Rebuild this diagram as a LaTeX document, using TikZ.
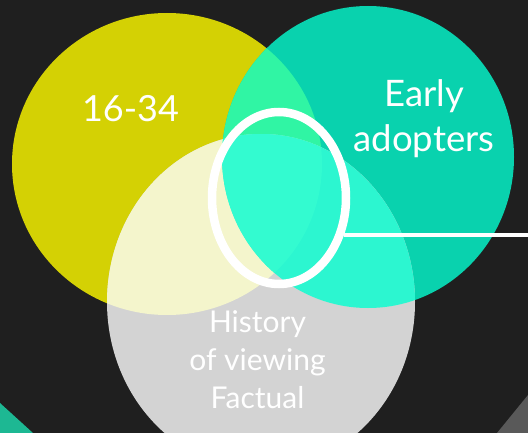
\documentclass[tikz,border=0pt]{standalone}
\usepackage{fontspec}
\setmainfont{Lato}
\usetikzlibrary{shapes.geometric}

\definecolor{slate}{HTML}{1F1F1F}
\definecolor{ageyellow}{HTML}{D4D104}
\definecolor{adoptgreen}{HTML}{09D2AE}
\definecolor{histgray}{HTML}{D3D3D3}
\definecolor{paleyellow}{HTML}{F4F5CC}
\definecolor{limegreen}{HTML}{30F5A4}
\definecolor{aquagreen}{HTML}{2CF6D0}
\definecolor{coregreen}{HTML}{33FBD0}
\definecolor{cornerteal}{HTML}{1DB893}
\definecolor{cornergray}{HTML}{595959}

% the three sets
\def\agepath{(167,164) ellipse [x radius=155, y radius=151]}
\def\adoptpath{(368,157) ellipse [x radius=146, y radius=151]}
\def\histpath{(261,302) ellipse [x radius=154, y radius=168]}

\tikzset{
  setlabel/.style={text=white, inner sep=0pt, align=center},
  focusring/.style={draw=white, line width=8.5pt, ellipse,
    minimum width=134pt, minimum height=172pt, inner sep=0pt}
}

\begin{document}
\begin{tikzpicture}[x=1pt, y=-1pt]
  \fill[slate] (0,0) rectangle (528,433);
  \useasboundingbox (0,0) rectangle (528,433);

  % corner wedges
  \fill[cornerteal] (0,403) -- (33,433) -- (0,433) -- cycle;
  \fill[cornergray] (528,395) -- (497,433) -- (528,433) -- cycle;

  % sets
  \fill[ageyellow] \agepath;
  \fill[adoptgreen] \adoptpath;
  \fill[histgray] \histpath;

  % pairwise overlaps
  \begin{scope}
    \clip \agepath;
    \fill[limegreen] \adoptpath;
    \fill[paleyellow] \histpath;
  \end{scope}
  \begin{scope}
    \clip \adoptpath;
    \fill[aquagreen] \histpath;
  \end{scope}
  % all three
  \begin{scope}
    \clip \agepath;
    \clip \adoptpath;
    \fill[coregreen] \histpath;
  \end{scope}

  % labels
  \node[setlabel, anchor=north, font=\fontsize{36}{46}\selectfont] (young) at (130.5,95) {16-34};
  \node[setlabel, anchor=north, font=\fontsize{36.5}{45}\selectfont] (early) at (424,79.5) {Early\\adopters};
  \node[setlabel, anchor=north, font=\fontsize{30}{38}\selectfont] (history) at (257.5,310) {History\\of viewing\\Factual};

  % highlighted core and its pointer
  \node[focusring] (focus) at (279,198) {};
  \coordinate (edge) at (528,235);
  \draw[white, line width=4pt] (focus.-30) -- (focus.-30 -| edge);
\end{tikzpicture}
\end{document}
